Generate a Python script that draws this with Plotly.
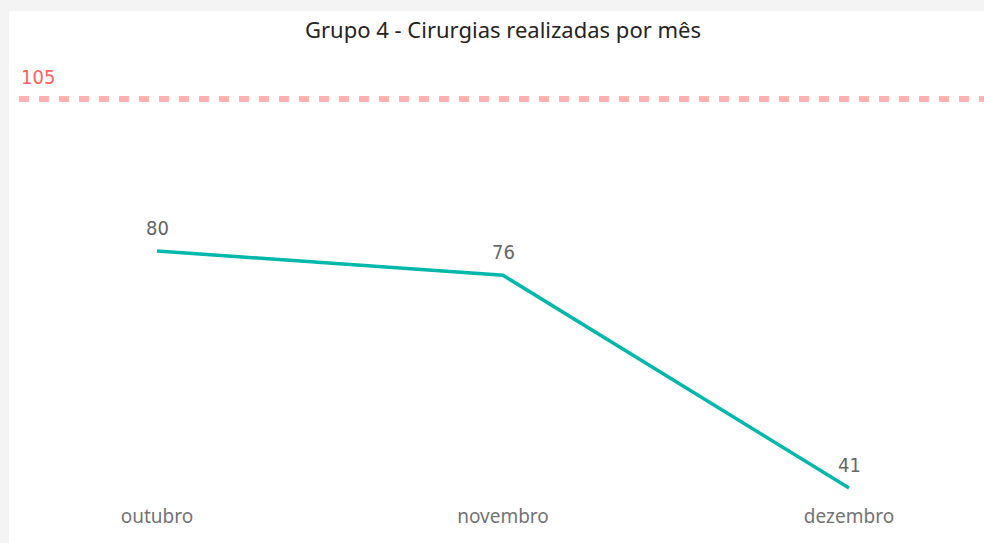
import plotly.graph_objects as go

# ---- data ----
months = ["outubro", "novembro", "dezembro"]
surgeries = [80, 76, 41]
target = 105
title_text = "Grupo 4 - Cirurgias realizadas por mês"

W, H = 984, 543
L, R, T, B = 19, 0, 60, 48
plot_w = W - L - R
plot_h = H - T - B

fig = go.Figure()

fig.add_trace(go.Scatter(
    x=list(range(len(months))), y=surgeries, mode="lines",
    line=dict(color="#01B8AA", width=3.5),
    hoverinfo="skip", showlegend=False,
))

# data labels
for i, v in enumerate(surgeries):
    fig.add_annotation(
        x=i, y=v, text=str(v), showarrow=False,
        yanchor="middle", yshift=23, xanchor="center",
        font=dict(family="DejaVu Sans Condensed", size=20, color="#666666"),
    )

# target line
fig.add_shape(type="line", xref="paper", x0=0, x1=1, yref="y", y0=target, y1=target,
              line=dict(color="#FFB0B0", width=6, dash="10px,10px"), layer="below")
fig.add_annotation(
    xref="paper", x=0, y=target, text=str(target), showarrow=False,
    xanchor="left", yanchor="middle", yshift=22, xshift=0,
    font=dict(family="DejaVu Sans Condensed", size=20, color="#FD625E"),
)

# card shadow (top/left margins)
def px_x(q):
    return (q - L) / plot_w

def px_y(p):
    return (H - B - p) / plot_h

fig.add_shape(type="rect", xref="paper", yref="paper", x0=px_x(0), x1=px_x(W), y0=px_y(11), y1=px_y(0),
              fillcolor="#f4f4f4", line=dict(width=0), layer="below")
fig.add_shape(type="rect", xref="paper", yref="paper", x0=px_x(0), x1=px_x(9), y0=px_y(H), y1=px_y(0),
              fillcolor="#f4f4f4", line=dict(width=0), layer="below")

spacing = 346.0
x0_px = 157.0
y_slope = (488 - 251) / (80 - 41)

fig.update_layout(
    width=W, height=H,
    margin=dict(l=L, r=R, t=T, b=B),
    paper_bgcolor="white", plot_bgcolor="rgba(0,0,0,0)",
    title=dict(text=title_text, xref="container", x=503 / W, xanchor="center",
               yref="container", y=1 - 30 / H, yanchor="middle",
               font=dict(family="Noto Sans", size=22, color="#252423")),
    xaxis=dict(
        tickmode="array", tickvals=list(range(len(months))), ticktext=months,
        range=[(L - x0_px) / spacing, (W - R - x0_px) / spacing],
        showgrid=False, zeroline=False, showline=False, ticks="",
        tickfont=dict(family="Noto Sans", size=19, color="#737373"),
        ticklabelstandoff=8,
    ),
    yaxis=dict(
        range=[41 - (H - B - 488) / y_slope, 80 + (251 - T) / y_slope],
        visible=False,
    ),
)

fig.write_html(
    "out.html",
    config={"displayModeBar": False},
    post_script="document.body.style.margin='0';document.body.style.overflow='hidden';",
)
